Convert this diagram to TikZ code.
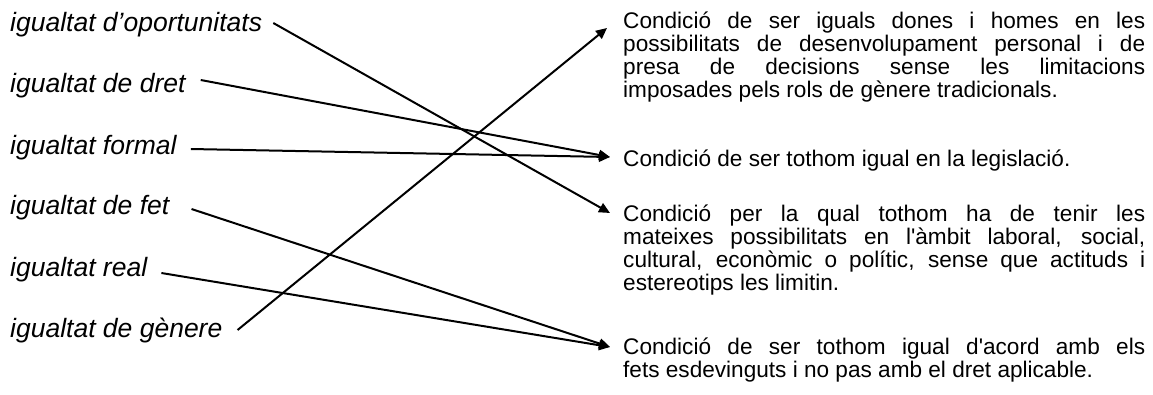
\documentclass[tikz,border=0pt]{standalone}
\usepackage{fontspec}
\setmainfont{Liberation Sans}
\usetikzlibrary{arrows.meta,calc}
\begin{document}
\begin{tikzpicture}[x=1pt,y=-1pt,
  lbl/.style={anchor=base west, inner sep=0pt, font=\fontsize{26.5}{30}\selectfont\itshape},
  defn/.style={anchor=base west, inner sep=0pt, font=\fontsize{22.6}{23}\selectfont},
  conn/.style={line width=2pt, -{Triangle[length=11pt,width=10pt]}}]
\useasboundingbox[fill=white] (0,0) rectangle (1153,394);
% left labels
\node[lbl] (L1) at (10,31)  {igualtat d’oportunitats};
\node[lbl] (L2) at (10,92)  {igualtat de dret};
\node[lbl] (L3) at (10,154) {igualtat formal};
\node[lbl] (L4) at (10,214) {igualtat de fet};
\node[lbl] (L5) at (10,276) {igualtat real};
\node[lbl] (L6) at (10,337) {igualtat de gènere};
% right definitions
\node[defn] (R1) at (623,28) {\parbox[t]{522pt}{%
\makebox[522pt][s]{Condició de ser iguals dones i homes en les}\\
\makebox[522pt][s]{possibilitats de desenvolupament personal i de}\\
\makebox[522pt][s]{presa de decisions sense les limitacions}\\
imposades pels rols de gènere tradicionals.}};
\node[defn] (R2) at (623,166) {Condició de ser tothom igual en la legislació.};
\node[defn] (R3) at (623,221) {\parbox[t]{522pt}{%
\makebox[522pt][s]{Condició per la qual tothom ha de tenir les}\\
\makebox[522pt][s]{mateixes possibilitats en l\textquotesingle àmbit laboral, social,}\\
\makebox[522pt][s]{cultural, econòmic o polític, sense que actituds i}\\
estereotips les limitin.}};
\node[defn] (R4) at (623,354) {\parbox[t]{522pt}{%
\makebox[522pt][s]{Condició de ser tothom igual d\textquotesingle acord amb els}\\
fets esdevinguts i no pas amb el dret aplicable.}};
% arrow tips
\coordinate (T1) at ($(R1.base west)+(-16,0)$);
\coordinate (T2) at ($(R2.base west)+(-13,-9)$);
\coordinate (T3) at ($(R3.base west)+(-13,-8)$);
\coordinate (T4) at ($(R4.base west)+(-13,-7)$);
% connectors
\draw[conn] ([xshift=11pt,yshift=8pt]L1.base east) -- (T3);
\draw[conn] ([xshift=15pt,yshift=12pt]L2.base east) -- (T2);
\draw[conn] ([xshift=14pt,yshift=5pt]L3.base east) -- (T2);
\draw[conn] ([xshift=22pt,yshift=5pt]L4.base east) -- (T4);
\draw[conn] ([xshift=14pt,yshift=3pt]L5.base east) -- (T4);
\draw[conn] ([xshift=15pt,yshift=7pt]L6.base east) -- (T1);
\end{tikzpicture}
\end{document}
